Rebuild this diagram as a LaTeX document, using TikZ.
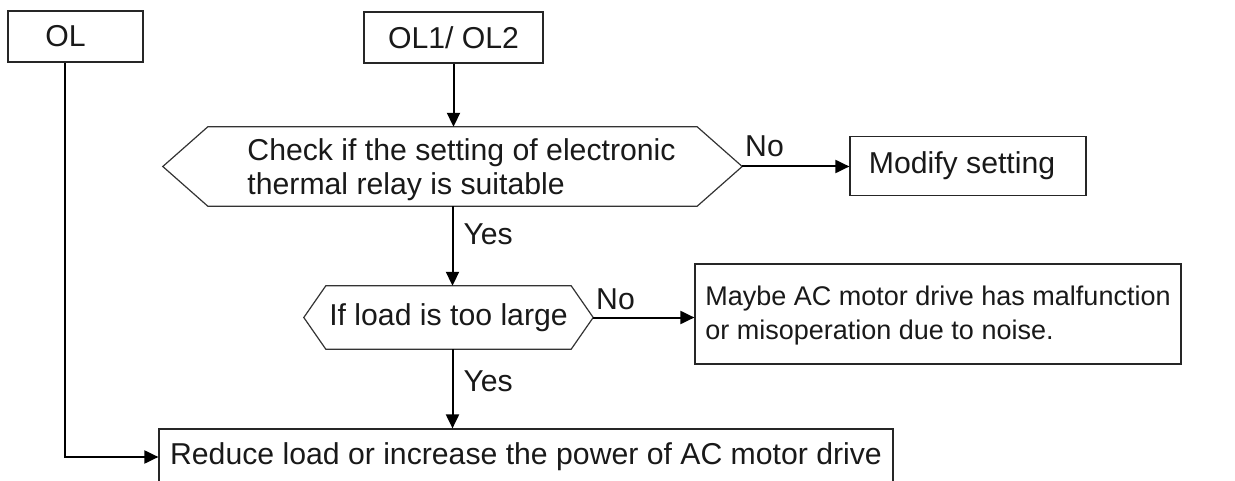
\documentclass[tikz,border=0pt]{standalone}
\usepackage{fontspec}
\setmainfont{Liberation Sans}
\usetikzlibrary{arrows.meta,positioning}

\begin{document}
\begin{tikzpicture}[
  x=1pt, y=-1pt,
  font=\fontsize{30.2}{34}\selectfont,
  box/.style={rectangle, draw=black!85, line width=1.2pt, align=left,
              inner sep=0pt, text=black!90},
  hexa/.style={rectangle, align=left, inner sep=0pt, text=black!90,
               append after command={\pgfextra{\draw[line width=1.2pt, draw=black!80]
                 (\tikzlastnode.west) -- ([xshift=#1]\tikzlastnode.north west)
                 -- ([xshift=-#1]\tikzlastnode.north east) -- (\tikzlastnode.east)
                 -- ([xshift=-#1]\tikzlastnode.south east)
                 -- ([xshift=#1]\tikzlastnode.south west) -- cycle;}}},
  arrow/.style={-{Triangle[length=14pt, width=13pt]}, line width=2pt},
  tag/.style={inner sep=2pt, text=black!90}
]
\useasboundingbox (0,0) rectangle (1235,481);

% Fault codes
\node[box, minimum width=135pt, minimum height=51pt,
      label={[tag, xshift=-10pt]center:OL}] (ol) at (75.5,36.5) {};
\node[box, minimum width=179pt, minimum height=51pt] (olx) at (453.5,37.5) {OL1/ OL2};

% Checks
\node[hexa=45pt, minimum width=579pt, minimum height=79pt,
      label={[tag, align=left, xshift=9pt, yshift=-3pt]center:Check if the setting of electronic\\thermal relay is suitable}]
  (check) at (452.5,166.5) {};
\node[box, minimum width=236pt, minimum height=59pt,
      label={[tag, xshift=-6pt]center:Modify setting}] (modify) at (968,166) {};
\node[hexa=22pt, minimum width=289pt, minimum height=63pt] (load) at (448.5,317.5)
  {If load is too large};
\node[box, minimum width=486pt, minimum height=100pt,
      label={[tag, align=left, yshift=-2pt, font=\fontsize{27}{34}\selectfont]center:Maybe AC motor drive has malfunction\\or misoperation due to noise.}]
  (malfunc) at (938,314) {};

% Remedy
\node[box, minimum width=734pt, minimum height=56pt] (reduce) at (526,457)
  {Reduce load or increase the power of AC motor drive};

% Connections
\draw[arrow] (olx.south) -- (olx.south |- check.north);
\draw[arrow] (check.east) -- (check.east -| modify.west)
  node[tag, pos=0, anchor=south west, yshift=7pt] {No};
\draw[arrow] (check.south) -- (check.south |- load.north)
  node[tag, pos=.35, anchor=west, xshift=8pt] {Yes};
\draw[arrow] (load.east) -- (load.east -| malfunc.west)
  node[tag, pos=0, anchor=south west, yshift=5pt] {No};
\draw[arrow] (check.south |- load.south) -- (check.south |- reduce.north)
  node[tag, pos=.4, anchor=west, xshift=8pt] {Yes};
\draw[arrow] ([xshift=-10.5pt]ol.south) |- (reduce.west);
\end{tikzpicture}
\end{document}
